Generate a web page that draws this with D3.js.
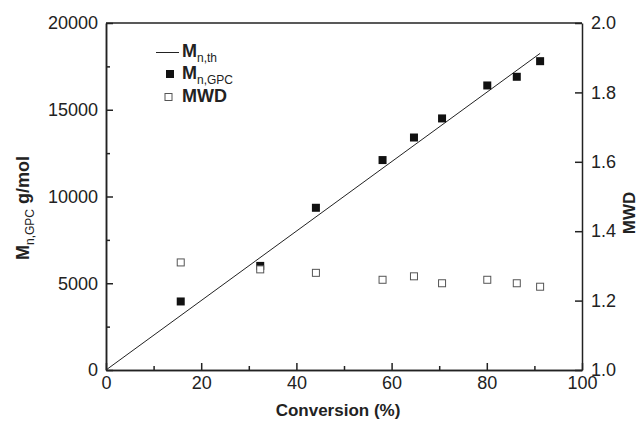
<!DOCTYPE html>
<html>
<head>
<meta charset="utf-8">
<script src="https://cdn.jsdelivr.net/npm/d3@7"></script>
<style>
  body { margin: 0; background: #fff; }
  text { font-family: "Liberation Sans", Arial, sans-serif; fill: #222; }
</style>
</head>
<body>
<div id="chart-area"></div>
<script>
// data
const conversion = [15.7, 32.4, 44.1, 58.1, 64.7, 70.6, 80.1, 86.3, 91.2]
const mnGpc = [3950, 6000, 9350, 12100, 13400, 14500, 16400, 16900, 17800]
const mwd = [1.31, 1.29, 1.28, 1.26, 1.27, 1.25, 1.26, 1.25, 1.24]
const thConversion = [0, 91.2]
const thMn = [0, 18250]
const xTicks = [0, 20, 40, 60, 80, 100]
const yLeftTicks = [0, 5000, 10000, 15000, 20000]
const yRightTicks = [1.0, 1.2, 1.4, 1.6, 1.8, 2.0]

const W = 642, H = 429
const PLOT = { LEFT: 106, RIGHT: 582, TOP: 23, BOTTOM: 370 }
const INK = "#222"

const svg = d3.select("#chart-area")
    .append("svg")
    .attr("width", W)
    .attr("height", H)

svg.append("rect").attr("width", W).attr("height", H).attr("fill", "#fff")

const x = d3.scaleLinear().domain([0, 100]).range([PLOT.LEFT, PLOT.RIGHT])
const yL = d3.scaleLinear().domain([0, 20000]).range([PLOT.BOTTOM, PLOT.TOP])
const yR = d3.scaleLinear().domain([1, 2]).range([PLOT.BOTTOM, PLOT.TOP])

function styleAxis(g) {
    g.select(".domain").attr("stroke", INK).attr("stroke-width", 1.5)
    g.selectAll(".tick line").attr("stroke", INK).attr("stroke-width", 1.5)
    g.selectAll(".tick text").attr("fill", INK).style("font-size", "18px")
}

// minor ticks first
svg.append("g")
    .attr("transform", `translate(0,${PLOT.BOTTOM})`)
    .call(d3.axisBottom(x).tickValues(d3.range(10, 100, 20)).tickSizeInner(-4).tickSizeOuter(0).tickFormat(""))
    .call(styleAxis)
svg.append("g")
    .attr("transform", `translate(${PLOT.LEFT},0)`)
    .call(d3.axisLeft(yL).tickValues(d3.range(2500, 20000, 5000)).tickSizeInner(-4).tickSizeOuter(0).tickFormat(""))
    .call(styleAxis)

// major axes
svg.append("g")
    .attr("transform", `translate(0,${PLOT.BOTTOM})`)
    .call(d3.axisBottom(x).tickValues(xTicks).tickSizeInner(-7).tickSizeOuter(0).tickPadding(6).tickFormat(d3.format("d")))
    .call(styleAxis)

svg.append("g")
    .attr("transform", `translate(${PLOT.LEFT},0)`)
    .call(d3.axisLeft(yL).tickValues(yLeftTicks).tickSizeInner(-7).tickSizeOuter(0).tickPadding(8).tickFormat(d3.format("d")))
    .call(styleAxis)

svg.append("g")
    .attr("transform", `translate(${PLOT.RIGHT},0)`)
    .call(d3.axisRight(yR).tickValues(yRightTicks).tickSizeInner(-7).tickSizeOuter(0).tickPadding(9).tickFormat(d3.format(".1f")))
    .call(styleAxis)

// top frame line
svg.append("line")
    .attr("x1", PLOT.LEFT).attr("x2", PLOT.RIGHT)
    .attr("y1", PLOT.TOP).attr("y2", PLOT.TOP)
    .attr("stroke", INK).attr("stroke-width", 1.5)

// theoretical line
svg.append("path")
    .datum(thConversion.map((c, i) => [c, thMn[i]]))
    .attr("fill", "none")
    .attr("stroke", INK)
    .attr("stroke-width", 1)
    .attr("d", d3.line().x(d => x(d[0])).y(d => yL(d[1])))

const S = 8
svg.append("g").selectAll("rect")
    .data(conversion.map((c, i) => [c, mnGpc[i]]))
    .enter().append("rect")
    .attr("x", d => x(d[0]) - S / 2)
    .attr("y", d => yL(d[1]) - S / 2)
    .attr("width", S).attr("height", S)
    .attr("fill", "#111")

svg.append("g").selectAll("rect")
    .data(conversion.map((c, i) => [c, mwd[i]]))
    .enter().append("rect")
    .attr("x", d => x(d[0]) - (S - 1) / 2)
    .attr("y", d => yR(d[1]) - (S - 1) / 2)
    .attr("width", S - 1).attr("height", S - 1)
    .attr("fill", "#fff")
    .attr("stroke", "#555")
    .attr("stroke-width", 1)

// legend
const lg = svg.append("g")
lg.append("line").attr("x1", 156).attr("x2", 179).attr("y1", 52.5).attr("y2", 52.5)
    .attr("stroke", INK).attr("stroke-width", 1)
lg.append("rect").attr("x", 166).attr("y", 70).attr("width", 8).attr("height", 8).attr("fill", "#111")
lg.append("rect").attr("x", 165).attr("y", 93.5).attr("width", 7).attr("height", 7)
    .attr("fill", "#fff").attr("stroke", "#555")

function subLabel(sel, main, sub, tail) {
    sel.append("tspan").style("font-weight", "bold").style("font-size", "18px").text(main)
    sel.append("tspan").style("font-size", "12px").attr("dy", 5).text(sub)
    if (tail) sel.append("tspan").style("font-weight", "bold").style("font-size", "18px").attr("dy", -5).text(tail)
}
lg.append("text").attr("x", 182).attr("y", 57).call(subLabel, "M", "n,th")
lg.append("text").attr("x", 182).attr("y", 79).call(subLabel, "M", "n,GPC")
lg.append("text").attr("x", 182).attr("y", 101.5)
    .style("font-weight", "bold").style("font-size", "18px").text("MWD")

// axis titles
svg.append("text")
    .attr("x", 338).attr("y", 416)
    .attr("text-anchor", "middle")
    .style("font-weight", "bold").style("font-size", "17px")
    .text("Conversion (%)")

svg.append("text")
    .attr("transform", "translate(29,208) rotate(-90)")
    .attr("text-anchor", "middle")
    .call(subLabel, "M", "n,GPC", " g/mol")

svg.append("text")
    .attr("transform", "translate(635,213) rotate(-90)")
    .attr("text-anchor", "middle")
    .style("font-weight", "bold").style("font-size", "17px")
    .text("MWD")
</script>
</body>
</html>
